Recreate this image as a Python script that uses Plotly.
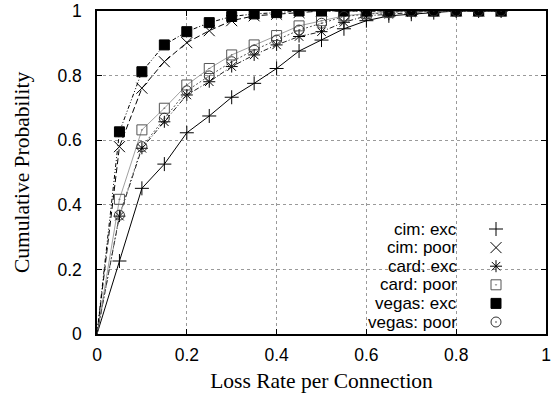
import plotly.graph_objects as go

# ---- data ----
loss_rate = [0.0, 0.05, 0.10, 0.15, 0.20, 0.25, 0.30, 0.35, 0.40, 0.45,
             0.50, 0.55, 0.60, 0.65, 0.70, 0.75, 0.80, 0.85, 0.90]

cim_exc    = [0.0, 0.226, 0.451, 0.526, 0.623, 0.675, 0.733, 0.776, 0.822, 0.876,
              0.910, 0.945, 0.970, 0.985, 0.990, 0.995, 1.0, 1.0, 1.0]
cim_poor   = [0.0, 0.580, 0.761, 0.843, 0.902, 0.939, 0.970, 0.985, 0.990, 0.995,
              1.0, 1.0, 1.0, 1.0, 1.0, 1.0, 1.0, 1.0, 1.0]
card_exc   = [0.0, 0.365, 0.575, 0.657, 0.740, 0.781, 0.828, 0.864, 0.895, 0.921,
              0.936, 0.965, 0.985, 0.990, 0.995, 1.0, 1.0, 1.0, 1.0]
card_poor  = [0.0, 0.417, 0.632, 0.699, 0.771, 0.822, 0.864, 0.895, 0.924, 0.954,
              0.970, 0.985, 0.992, 0.995, 1.0, 1.0, 1.0, 1.0, 1.0]
vegas_exc  = [0.0, 0.626, 0.812, 0.895, 0.936, 0.964, 0.983, 0.991, 0.995, 1.0,
              1.0, 1.0, 1.0, 1.0, 1.0, 1.0, 1.0, 1.0, 1.0]
vegas_poor = [0.0, 0.368, 0.580, 0.668, 0.753, 0.799, 0.843, 0.879, 0.910, 0.941,
              0.962, 0.983, 0.990, 0.995, 1.0, 1.0, 1.0, 1.0, 1.0]

series_names = ["cim: exc", "cim: poor", "card: exc", "card: poor", "vegas: exc", "vegas: poor"]
series_vals = [cim_exc, cim_poor, card_exc, card_poor, vegas_exc, vegas_poor]

x_ticks = [0, 0.2, 0.4, 0.6, 0.8, 1]
x_tick_labels = ["0", "0.2", "0.4", "0.6", "0.8", "1"]
y_ticks = [0, 0.2, 0.4, 0.6, 0.8, 1]
y_tick_labels = ["0", "0.2", "0.4", "0.6", "0.8", "1"]

# ---- styles ----
styles = [
    dict(symbol="cross-thin-open", size=10, mcolor="black", lcolor="black", dash="solid", lw=1.0),
    dict(symbol="x-thin-open", size=11, mcolor="black", lcolor="black", dash="6px,3px", lw=1.0),
    dict(symbol="asterisk-open", size=10, mcolor="black", lcolor="#222222", dash="5px,2px,1px,2px", lw=1.0),
    dict(symbol="square-open-dot", size=10, mcolor="#555555", lcolor="#888888", dash="solid", lw=0.8),
    dict(symbol="square", size=10, mcolor="black", lcolor="black", dash="4px,2px,1px,2px,1px,2px", lw=1.0),
    dict(symbol="circle-open-dot", size=10, mcolor="#333333", lcolor="#555555", dash="2px,2px", lw=1.0),
]

fig = go.Figure()

W, H = 554, 397
ml, mr, mt, mb = 97, 8, 11, 63
pw, ph = W - ml - mr, H - mt - mb

def px_x(p):
    return (p - ml) / pw

def px_y(p):
    return (H - mb - p) / ph

for name, vals, st in zip(series_names, series_vals, styles):
    fig.add_trace(go.Scatter(
        x=loss_rate, y=vals, mode="lines",
        line=dict(color=st["lcolor"], width=st["lw"], dash=st["dash"]),
        showlegend=False, hoverinfo="skip"))
for name, vals, st in zip(series_names, series_vals, styles):
    fig.add_trace(go.Scatter(
        x=loss_rate[1:], y=vals[1:], mode="markers", name=name,
        marker=dict(symbol=st["symbol"], size=st["size"], color=st["mcolor"],
                    line=dict(color=st["mcolor"], width=1)),
        showlegend=False))

# custom key (text right-aligned, symbol to the right)
row0, row_step = 229, 18.6
key_x = px_x(496)
for i, (name, st) in enumerate(zip(series_names, styles)):
    ry = row0 + i * row_step
    fig.add_trace(go.Scatter(
        x=[key_x], y=[px_y(ry)], mode="markers", xaxis="x2", yaxis="y2",
        marker=dict(symbol=st["symbol"], size=st["size"], color=st["mcolor"],
                    line=dict(color=st["mcolor"], width=1)),
        showlegend=False, hoverinfo="skip"))
    fig.add_annotation(x=px_x(458), y=px_y(ry), xref="paper", yref="paper",
                       text=name, showarrow=False, xanchor="right", yanchor="middle",
                       borderpad=0,
                       font=dict(family="Liberation Sans, Arial, sans-serif", size=17, color="black"))

fig.add_shape(type="rect", xref="paper", yref="paper",
              x0=px_x(337), x1=px_x(535), y0=0, y1=px_y(214),
              fillcolor="white", line=dict(width=0), layer="between")

grid = dict(showgrid=True, gridcolor="#9a9a9a", griddash="dot", gridwidth=1)
fig.update_layout(
    width=W, height=H,
    margin=dict(l=ml, r=mr, t=mt, b=mb, autoexpand=False),
    plot_bgcolor="white", paper_bgcolor="white",
    font=dict(family="Liberation Sans, Arial, sans-serif", size=17.5, color="black"),
    xaxis=dict(range=[0, 1], tickvals=x_ticks, ticktext=x_tick_labels,
               showline=True, linecolor="black", linewidth=1.5, mirror="ticks",
               ticks="inside", ticklen=5, tickcolor="black", zeroline=False,
               ticklabelstandoff=4, automargin=False,
               title=dict(text="Loss Rate per Connection", standoff=9,
                          font=dict(family="Liberation Serif, Times New Roman, serif", size=21.5)),
               **grid),
    yaxis=dict(range=[0, 1], tickvals=y_ticks, ticktext=y_tick_labels,
               showline=True, linecolor="black", linewidth=1.5, mirror="ticks",
               ticks="inside", ticklen=5, tickcolor="black", zeroline=False,
               ticklabelstandoff=10, automargin=False,
               title=dict(text="Cumulative Probability", standoff=22,
                          font=dict(family="Liberation Serif, Times New Roman, serif", size=21.5)),
               **grid),
    xaxis2=dict(range=[0, 1], overlaying="x", visible=False, fixedrange=True),
    yaxis2=dict(range=[0, 1], overlaying="y", visible=False, fixedrange=True),
)

fig.write_html("out.html", config={"displayModeBar": False},
               post_script="document.body.style.margin='0';document.body.style.overflow='hidden';")
